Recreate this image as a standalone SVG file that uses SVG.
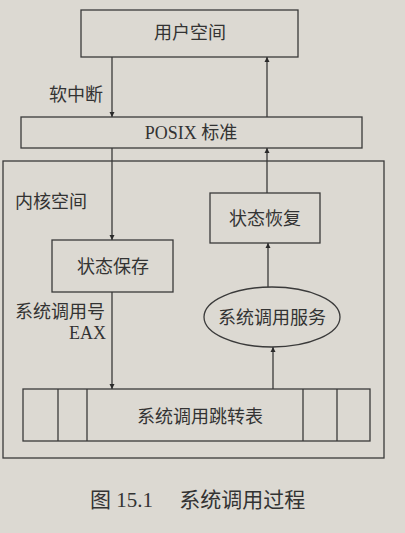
<svg xmlns="http://www.w3.org/2000/svg" width="405" height="533" viewBox="0 0 405 533">
<style>
.box{fill:none;stroke:#3a3a3a;stroke-width:1.3}
.ln{stroke:#3a3a3a;stroke-width:1.3;fill:none}
.t{font-family:"Liberation Serif","Noto Sans CJK SC",serif;font-size:18px;fill:#333}
.c{text-anchor:middle}
</style>
<defs>
<marker id="ah" viewBox="0 0 10 10" refX="10" refY="5" markerWidth="5" markerHeight="6" orient="auto" markerUnits="userSpaceOnUse">
<path d="M0,0 L10,5 L0,10 z" fill="#2a2a2a"/>
</marker>
</defs>
<rect width="405" height="533" fill="#dcd9d2"/>
<g id="user-space"><rect class="box" x="81" y="10" width="217" height="47"/><text class="t c" x="190" y="39">用户空间</text></g>
<g id="posix"><rect class="box" x="21" y="117" width="341" height="31"/><text class="t c" x="191" y="139">POSIX 标准</text></g>
<g id="kernel-space"><rect class="box" x="3" y="161" width="381" height="297"/><text class="t" x="15" y="208">内核空间</text></g>
<g id="state-save"><rect class="box" x="52" y="240" width="121" height="52"/><text class="t c" x="113" y="273">状态保存</text></g>
<g id="state-restore"><rect class="box" x="210" y="193" width="110" height="50"/><text class="t c" x="265" y="225">状态恢复</text></g>
<g id="syscall-service"><ellipse class="box" cx="272" cy="317" rx="68" ry="30"/><text class="t c" x="272" y="324">系统调用服务</text></g>
<g id="jump-table"><rect class="box" x="23" y="389" width="347" height="52"/>
<line class="ln" x1="58" y1="389" x2="58" y2="441"/><line class="ln" x1="87" y1="389" x2="87" y2="441"/>
<line class="ln" x1="303" y1="389" x2="303" y2="441"/><line class="ln" x1="337" y1="389" x2="337" y2="441"/>
<text class="t c" x="200" y="423">系统调用跳转表</text></g>
<g id="connectors">
<line class="ln" x1="112" y1="57" x2="112" y2="117" marker-end="url(#ah)"/>
<line class="ln" x1="112" y1="148" x2="112" y2="240" marker-end="url(#ah)"/>
<line class="ln" x1="112" y1="292" x2="112" y2="389" marker-end="url(#ah)"/>
<line class="ln" x1="267" y1="117" x2="267" y2="57" marker-end="url(#ah)"/>
<line class="ln" x1="267" y1="193" x2="267" y2="148" marker-end="url(#ah)"/>
<line class="ln" x1="268" y1="287" x2="268" y2="243" marker-end="url(#ah)"/>
<line class="ln" x1="273" y1="389" x2="273" y2="347" marker-end="url(#ah)"/>
<text class="t" x="49" y="101">软中断</text>
<text class="t" x="15" y="318">系统调用号</text>
<text class="t" x="106" y="339" text-anchor="end">EAX</text>
</g>
<text class="t" x="90" y="507" style="font-size:21px">图 15.1　 系统调用过程</text>
</svg>
